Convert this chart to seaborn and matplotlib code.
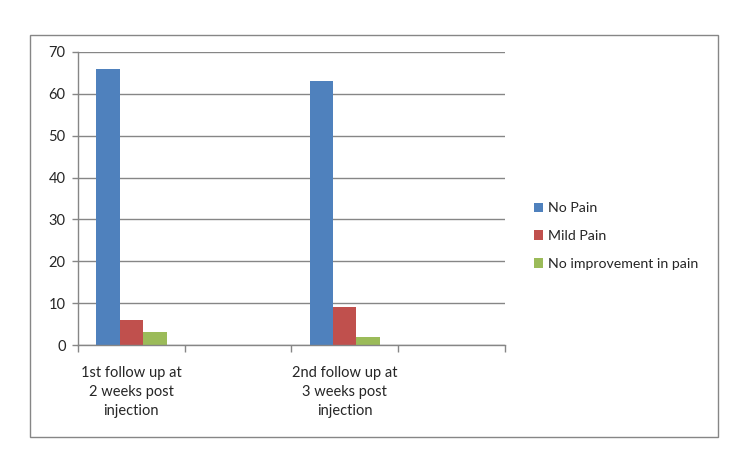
import numpy as np
import pandas as pd
import seaborn as sns
import matplotlib.pyplot as plt
from matplotlib.patches import Rectangle, Patch

# categories (the 2nd and 4th slots are empty in the original chart)
categories = ["1st follow up at\n2 weeks post\ninjection", "",
              "2nd follow up at\n3 weeks post\ninjection", " "]
series = ["No Pain", "Mild Pain", "No improvement in pain"]
no_pain = [66, np.nan, 63, np.nan]
mild_pain = [6, np.nan, 9, np.nan]
no_improvement = [3, np.nan, 2, np.nan]
colors = ["#4F81BD", "#C0504D", "#9BBB59"]


def main():
    rows = []
    for name, vals in zip(series, [no_pain, mild_pain, no_improvement]):
        for cat, v in zip(categories, vals):
            rows.append({"category": cat, "series": name, "value": v})
    df = pd.DataFrame(rows)

    sns.set_style("white")
    plt.rcParams["font.family"] = ["Lato", "DejaVu Sans"]

    fig = plt.figure(figsize=(7.5, 4.49), dpi=100)
    ax = fig.add_axes([0.104, 0.2316, 0.569, 0.6526])

    sns.barplot(data=df, x="category", y="value", hue="series",
                order=categories, hue_order=series, palette=colors,
                width=0.66, gap=0, saturation=1, legend=False, ax=ax,
                linewidth=0, err_kws={"linewidth": 0})

    ax.set_xlim(-0.5, len(categories) - 0.5)
    ax.set_ylim(0, 70)
    ax.set_yticks(range(0, 71, 10))
    ax.set_xlabel("")
    ax.set_ylabel("")

    ax.yaxis.grid(True, color="#868686", linewidth=1)
    ax.set_axisbelow(True)
    for s in ["top", "right"]:
        ax.spines[s].set_visible(False)
    for s in ["left", "bottom"]:
        ax.spines[s].set_color("#868686")
        ax.spines[s].set_linewidth(1)

    ax.tick_params(axis="y", length=4, width=1, color="#868686", direction="out",
                   labelsize=10.5, pad=5, left=True)
    ax.set_xticks(range(len(categories)))
    ax.set_xticklabels(categories, fontsize=10.5, linespacing=1.45)
    ax.tick_params(axis="x", length=0, pad=15)
    ax.set_xticks(np.arange(-0.5, len(categories)), minor=True)
    ax.tick_params(axis="x", which="minor", length=5, width=1,
                   color="#868686", direction="out", bottom=True)

    handles = [Patch(facecolor=c, edgecolor="none") for c in colors]
    fig.legend(handles, series, loc="center left",
               bbox_to_anchor=(0.695, 0.474), frameon=False, fontsize=10.2,
               handlelength=0.65, handleheight=0.65, handletextpad=0.35,
               labelspacing=1.12)

    fig.patches.append(Rectangle((0.04, 0.0267), 0.917, 0.895,
                                 transform=fig.transFigure, fill=False,
                                 edgecolor="#868686", linewidth=1))

    fig.savefig("out.png", dpi=100)


if __name__ == "__main__":
    main()
